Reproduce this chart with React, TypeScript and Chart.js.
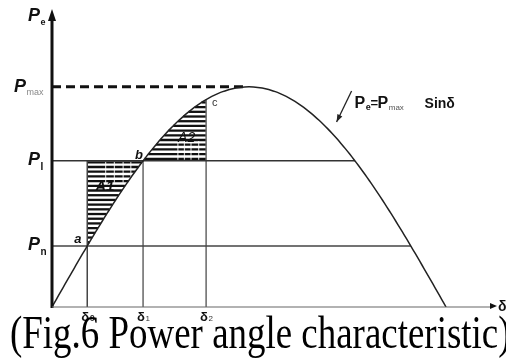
import { useEffect, useRef } from "react";
import { Chart, registerables } from "chart.js";

Chart.register(...registerables);

// Power angle characteristic Pe = Pmax·sin δ (angles in degrees)
const P_MAX = 1;
const ANGLE_RANGE = [0, 201];
const POWER_RANGE = [0, 1.34];
const CURVE_STEP_DEG = 2;

// Operating power levels: lower (P_n) and upper (P_I)
const POWER_LEVELS = [0.277, 0.664];
const POWER_SUBS = ["n", "I"];

// Rotor angles δ0 (point a), δ1 (point b), δ2 (point c)
const KEY_ANGLES = [16.1, 41.6, 70.4];
const ANGLE_SUBS = ["0", "1", "2"];
const POINT_NAMES = ["a", "b", "c"];

const CAPTION = "(Fig.6 Power angle characteristic)";

const rad = (d: number) => (d * Math.PI) / 180;
const deg = (r: number) => (r * 180) / Math.PI;
const pe = (d: number) => P_MAX * Math.sin(rad(d));

const curvePoints: { x: number; y: number }[] = [];
for (let d = 0; d <= 180; d += CURVE_STEP_DEG) curvePoints.push({ x: d, y: pe(d) });

const [P_LOW, P_HIGH] = POWER_LEVELS;
const [D0, D1, D2] = KEY_ANGLES;

const SANS = "'Liberation Sans', Arial, sans-serif";

function textWithSub(
  ctx: CanvasRenderingContext2D,
  main: string,
  sub: string,
  x: number,
  y: number,
  mainFont: string,
  subFont: string,
  subDy: number,
  subColor = "#111"
) {
  ctx.font = mainFont;
  ctx.fillStyle = "#111";
  ctx.fillText(main, x, y);
  const w = ctx.measureText(main).width;
  ctx.font = subFont;
  ctx.fillStyle = subColor;
  ctx.fillText(sub, x + w + 0.5, y + subDy);
}

const diagramPlugin = {
  id: "powerAngleDiagram",
  beforeDatasetsDraw(chart: any) {
    const { ctx } = chart;
    const xs = chart.scales.x;
    const ys = chart.scales.y;
    const X = (d: number) => xs.getPixelForValue(d);
    const Y = (p: number) => ys.getPixelForValue(p);
    ctx.save();
    ctx.strokeStyle = "#111";
    ctx.lineWidth = 2.3;
    const gap = 4.7;
    // area A1: between P_I and the curve, from δ0 to δ1
    const yTop1 = Y(P_HIGH);
    const yBot1 = Y(P_LOW);
    for (let y = yTop1 + 1.5; y < yBot1; y += gap) {
      const p = ys.getValueForPixel(y);
      const xl = X(D0);
      const xr = X(deg(Math.asin(Math.min(1, p / P_MAX))));
      if (xr > xl + 1) {
        ctx.beginPath();
        ctx.moveTo(xl, y);
        ctx.lineTo(xr, y);
        ctx.stroke();
      }
    }
    // area A2: between the curve and P_I, from δ1 to δ2
    const yTop2 = Y(pe(D2));
    for (let y = yTop1 - 2; y > yTop2; y -= gap) {
      const p = ys.getValueForPixel(y);
      const xl = X(deg(Math.asin(Math.min(1, p / P_MAX))));
      const xr = X(D2);
      if (xr > xl + 1) {
        ctx.beginPath();
        ctx.moveTo(xl, y);
        ctx.lineTo(xr, y);
        ctx.stroke();
      }
    }
    // light cross strokes in the hatching
    ctx.strokeStyle = "rgba(255,255,255,0.75)";
    ctx.lineWidth = 1.2;
    const cross = (d: number, p0: number, p1: number) => {
      ctx.beginPath();
      ctx.moveTo(X(d), Y(p0));
      ctx.lineTo(X(d), Y(p1));
      ctx.stroke();
    };
    [24.5, 28.5, 32.5, 36].forEach((d) => cross(d, P_HIGH - 0.005, P_HIGH - 0.1));
    [57.5, 60.5, 63.5, 67].forEach((d) => cross(d, P_HIGH + 0.005, P_HIGH + 0.09));
    ctx.restore();
  },
  afterDatasetsDraw(chart: any) {
    const { ctx, chartArea } = chart;
    const xs = chart.scales.x;
    const ys = chart.scales.y;
    const X = (d: number) => xs.getPixelForValue(d);
    const Y = (p: number) => ys.getPixelForValue(p);
    const left = chartArea.left;
    const bottom = chartArea.bottom;
    ctx.save();

    // axes with arrow heads
    ctx.strokeStyle = "#111";
    ctx.fillStyle = "#111";
    ctx.lineWidth = 3;
    ctx.beginPath();
    ctx.moveTo(left, bottom + 1);
    ctx.lineTo(left, chartArea.top + 4);
    ctx.stroke();
    ctx.beginPath();
    ctx.moveTo(left, chartArea.top - 3);
    ctx.lineTo(left - 4, chartArea.top + 9);
    ctx.lineTo(left + 4, chartArea.top + 9);
    ctx.closePath();
    ctx.fill();

    ctx.strokeStyle = "#666";
    ctx.lineWidth = 1.2;
    ctx.beginPath();
    ctx.moveTo(left, bottom);
    ctx.lineTo(chartArea.right - 2, bottom);
    ctx.stroke();
    ctx.fillStyle = "#111";
    ctx.beginPath();
    ctx.moveTo(chartArea.right + 5, bottom - 1);
    ctx.lineTo(chartArea.right - 2, bottom - 4);
    ctx.lineTo(chartArea.right - 2, bottom + 2);
    ctx.closePath();
    ctx.fill();

    // annotation arrow towards the curve
    const tip = { x: X(130), y: Y(0.84) };
    const tail = { x: tip.x + 15, y: tip.y - 31 };
    ctx.strokeStyle = "#222";
    ctx.lineWidth = 1.3;
    ctx.beginPath();
    ctx.moveTo(tail.x, tail.y);
    ctx.lineTo(tip.x, tip.y);
    ctx.stroke();
    const ang = Math.atan2(tip.y - tail.y, tip.x - tail.x);
    ctx.fillStyle = "#222";
    ctx.beginPath();
    ctx.moveTo(tip.x, tip.y);
    ctx.lineTo(tip.x - 8 * Math.cos(ang - 0.35), tip.y - 8 * Math.sin(ang - 0.35));
    ctx.lineTo(tip.x - 8 * Math.cos(ang + 0.35), tip.y - 8 * Math.sin(ang + 0.35));
    ctx.closePath();
    ctx.fill();

    const bigP = `italic bold 18px ${SANS}`;
    ctx.textBaseline = "alphabetic";
    ctx.textAlign = "left";

    // y-axis labels
    textWithSub(ctx, "P", "e", left - 24, chartArea.top + 9, bigP, `bold 9px ${SANS}`, 4);
    textWithSub(ctx, "P", "max", left - 38, Y(P_MAX) + 5, bigP, `9px ${SANS}`, 3, "#888");
    POWER_LEVELS.forEach((p, i) => {
      textWithSub(ctx, "P", POWER_SUBS[i], left - 24, Y(p) + 4, bigP, `bold 10px ${SANS}`, 5);
    });

    // x-axis labels
    KEY_ANGLES.forEach((d, i) => {
      textWithSub(ctx, "δ", ANGLE_SUBS[i], X(d) - 6, bottom + 14, `bold 13px ${SANS}`, i === 0 ? `bold 9px ${SANS}` : `8px ${SANS}`, 0, "#333");
    });
    ctx.font = `bold 14px ${SANS}`;
    ctx.fillStyle = "#111";
    ctx.fillText("δ", chartArea.right + 6, bottom + 4);

    // point labels
    ctx.font = `italic bold 13px ${SANS}`;
    ctx.fillText(POINT_NAMES[0], X(D0) - 13, Y(pe(D0)) - 3);
    ctx.fillText(POINT_NAMES[1], X(D1) - 8, Y(pe(D1)) - 2);
    ctx.font = `11px ${SANS}`;
    ctx.fillStyle = "#333";
    ctx.fillText(POINT_NAMES[2], X(D2) + 6, Y(pe(D2)) + 6);

    // area labels
    ctx.fillStyle = "#111";
    ctx.font = `italic bold 15px ${SANS}`;
    ctx.fillText("A1", X(D0) + 8, Y(P_HIGH) + 30);
    ctx.font = `italic 14px ${SANS}`;
    ctx.fillText("A2", X(D1) + 35, Y(P_HIGH) - 19);

    // curve formula
    const fx = tail.x + 3;
    const fy = tail.y + 17;
    textWithSub(ctx, "P", "e", fx, fy, `bold 16px ${SANS}`, `bold 9px ${SANS}`, 2);
    ctx.font = `bold 13px ${SANS}`;
    ctx.fillStyle = "#111";
    ctx.fillText("=", fx + 16, fy - 1);
    textWithSub(ctx, "P", "max", fx + 23, fy, `bold 16px ${SANS}`, `8px ${SANS}`, 2, "#555");
    ctx.font = `bold 14px ${SANS}`;
    ctx.fillStyle = "#111";
    ctx.fillText("Sinδ", fx + 70, fy);

    // caption
    ctx.save();
    ctx.font = "36.5px 'Liberation Serif', 'Times New Roman', serif";
    ctx.fillStyle = "#000";
    ctx.translate(10, 348);
    ctx.scale(1.012, 1.3);
    ctx.fillText(CAPTION, 0, 0);
    ctx.restore();

    ctx.restore();
  },
};

export default function App() {
  const canvasRef = useRef<HTMLCanvasElement | null>(null);

  useEffect(() => {
    if (!canvasRef.current) return;
    const seg = (a: { x: number; y: number }, b: { x: number; y: number }) => [a, b];
    const chart = new Chart(canvasRef.current, {
      type: "line",
      data: {
        datasets: [
          {
            label: "Pe = Pmax sinδ",
            data: curvePoints,
            borderColor: "#222",
            borderWidth: 1.5,
            pointRadius: 0,
            tension: 0.3,
          },
          {
            label: "Pmax",
            data: seg({ x: 0, y: P_MAX }, { x: 88, y: P_MAX }),
            borderColor: "#111",
            borderWidth: 3,
            borderDash: [9, 5],
            pointRadius: 0,
          },
          {
            label: "P_I",
            data: seg({ x: 0, y: P_HIGH }, { x: 180 - D1, y: P_HIGH }),
            borderColor: "#333",
            borderWidth: 1.5,
            pointRadius: 0,
          },
          {
            label: "P_n",
            data: seg({ x: 0, y: P_LOW }, { x: 180 - D0, y: P_LOW }),
            borderColor: "#444",
            borderWidth: 1.5,
            pointRadius: 0,
          },
          {
            label: "δ0",
            data: seg({ x: D0, y: 0 }, { x: D0, y: P_HIGH }),
            borderColor: "#444",
            borderWidth: 1.5,
            pointRadius: 0,
          },
          {
            label: "δ1",
            data: seg({ x: D1, y: 0 }, { x: D1, y: P_HIGH }),
            borderColor: "#666",
            borderWidth: 1.5,
            pointRadius: 0,
          },
          {
            label: "δ2",
            data: seg({ x: D2, y: 0 }, { x: D2, y: pe(D2) }),
            borderColor: "#666",
            borderWidth: 1.5,
            pointRadius: 0,
          },
        ],
      },
      options: {
        animation: false,
        responsive: false,
        devicePixelRatio: 1,
        layout: { padding: { left: 52, right: 14, top: 12, bottom: 51 } },
        plugins: { legend: { display: false }, tooltip: { enabled: false }, title: { display: false } },
        scales: {
          x: { type: "linear", min: ANGLE_RANGE[0], max: ANGLE_RANGE[1], display: false },
          y: { type: "linear", min: POWER_RANGE[0], max: POWER_RANGE[1], display: false },
        },
      },
      plugins: [diagramPlugin],
    });
    return () => chart.destroy();
  }, []);

  return (
    <div style={{ position: "fixed", left: 0, top: 0, width: 506, height: 358, background: "#fff" }}>
      <canvas ref={canvasRef} width={506} height={358} style={{ width: 506, height: 358, display: "block" }} />
    </div>
  );
}
